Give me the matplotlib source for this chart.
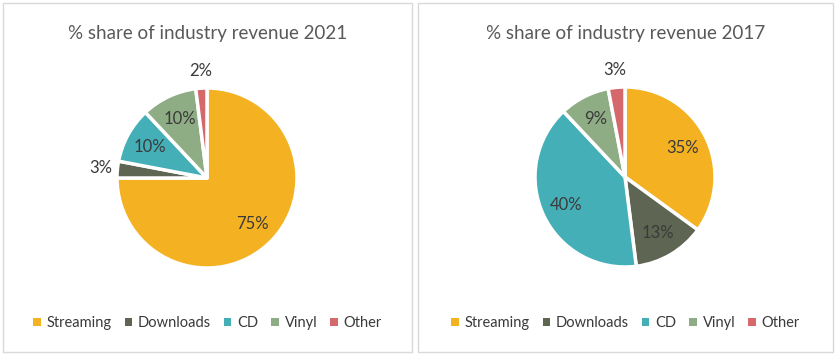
import numpy as np
import matplotlib
matplotlib.use("Agg")
import matplotlib.pyplot as plt
from matplotlib.patches import Rectangle, Patch

plt.rcParams.update({
    "font.family": ["Lato", "DejaVu Sans"],
})

# data
categories = ["Streaming", "Downloads", "CD", "Vinyl", "Other"]
share_2021 = [75, 3, 10, 10, 2]
share_2017 = [35, 13, 40, 9, 3]
colors = ["#F4B223", "#5F6553", "#45AFB7", "#8EAD85", "#D4686A"]

TEXT = "#3A3A3A"
TITLE = "#595959"

W, H = 840, 360
fig = plt.figure(figsize=(W / 100, H / 100), dpi=100)
fig.patch.set_facecolor("white")

panels = [
    # (values, title, panel box px (x0, y0, x1, y1), pie centre px, radius px)
    (share_2021, "% share of industry revenue 2021", (3, 3, 412, 352), (207, 178), 90),
    (share_2017, "% share of industry revenue 2017", (418, 3, 833, 352), (625, 177), 90),
]

for vals, title, box, (cx, cy), r in panels:
    x0, y0, x1, y1 = box
    fig.patches.append(Rectangle((x0 / W, 1 - y1 / H), (x1 - x0) / W, (y1 - y0) / H,
                                 transform=fig.transFigure, fill=False,
                                 edgecolor="#D9D9D9", lw=1.0))
    fig.text((x0 + x1) / 2 / W, 1 - 34 / H, title, ha="center", va="center",
             fontsize=13.5, color=TITLE)

    ax = fig.add_axes([(cx - r) / W, 1 - (cy + r) / H, 2 * r / W, 2 * r / H])
    wedges, _ = ax.pie(vals, colors=colors, startangle=90, counterclock=False,
                       radius=1.0, wedgeprops=dict(edgecolor="white", linewidth=2.5,
                                                   joinstyle="round"))
    ax.set_xlim(-1, 1)
    ax.set_ylim(-1, 1)
    ax.set_aspect("equal")
    ax.axis("off")

    # percent labels: inside for big slices, outside for small ones
    for w, v in zip(wedges, vals):
        ang = np.deg2rad((w.theta1 + w.theta2) / 2)
        d = 0.72 if v >= 5 else 1.19
        ax.text(d * np.cos(ang), d * np.sin(ang), f"{v}%", ha="center", va="center",
                fontsize=12, color=TEXT, clip_on=False)

    handles = [Patch(facecolor=c, edgecolor="none") for c in colors]
    fig.legend(handles, categories, loc="center", ncol=5,
               bbox_to_anchor=((x0 + x1) / 2 / W, 1 - 323 / H),
               frameon=False, fontsize=10.5, labelcolor=TEXT,
               handlelength=0.5, handleheight=0.5, handletextpad=0.4,
               columnspacing=0.9)

fig.savefig("out.png", dpi=100, facecolor="white")
